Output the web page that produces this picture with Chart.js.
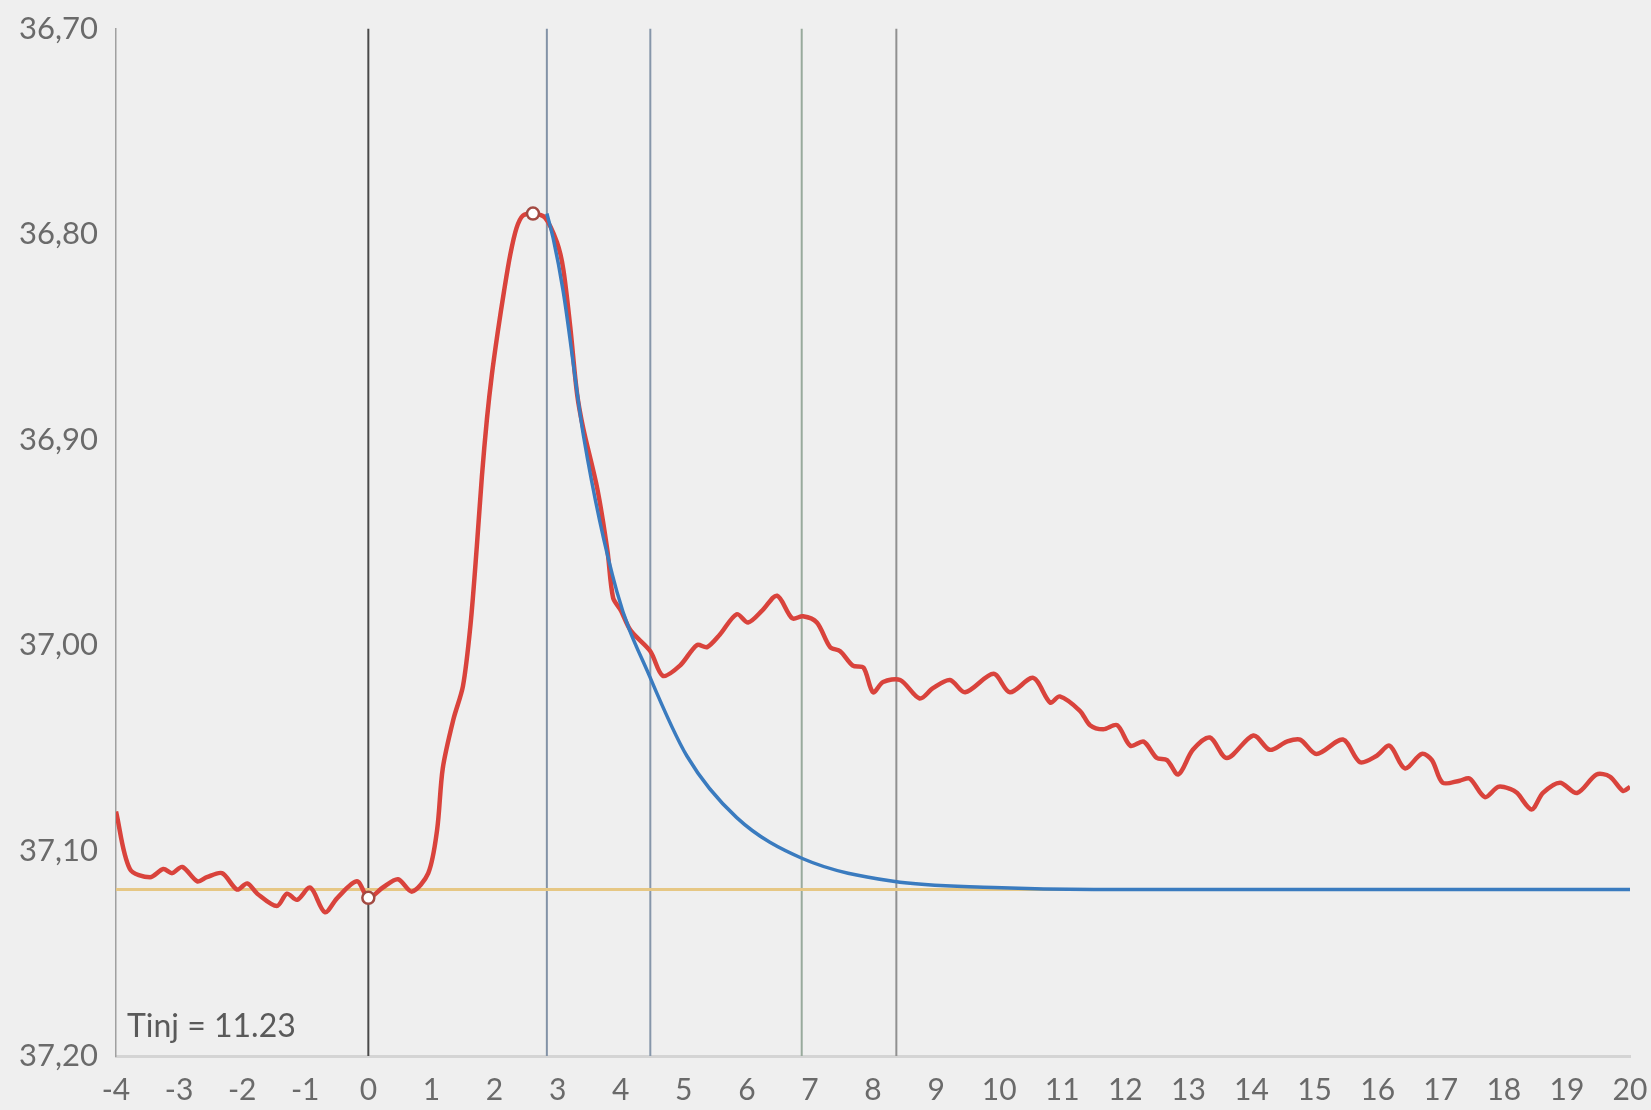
<!DOCTYPE html>
<html>
<head>
<meta charset="utf-8">
<title>Thermodilution curve</title>
<script src="https://cdn.jsdelivr.net/npm/chart.js@4.4.1/dist/chart.umd.min.js"></script>
<style>
    body { margin: 0; background: #efefef; }
    #wrap { width: 1651px; height: 1110px; position: relative; }
</style>
</head>
<body>
<div id="wrap"><canvas id="curveChart"></canvas></div>
<script>
// Measured temperature (red)
const measuredTime = [
    -4.00, -3.78, -3.46, -3.25, -3.11, -2.95, -2.71, -2.56, -2.32, -2.08,
    -1.92, -1.76, -1.45, -1.29, -1.13, -0.92, -0.69, -0.49, -0.18, 0.00,
    0.23, 0.47, 0.69, 0.95, 1.09, 1.18, 1.35, 1.50, 1.62, 1.72,
    1.80, 1.88, 1.96, 2.05, 2.15, 2.25, 2.35, 2.45, 2.61, 2.80, 2.99,
    3.09, 3.20, 3.31, 3.41, 3.63, 3.79, 3.88, 4.00, 4.16, 4.47,
    4.67, 4.94, 5.21, 5.37, 5.57, 5.84, 6.02, 6.25, 6.48, 6.72,
    6.89, 7.11, 7.32, 7.48, 7.68, 7.85, 8.00, 8.16, 8.43, 8.74,
    8.95, 9.22, 9.46, 9.91, 10.17, 10.54, 10.81, 10.96, 11.28, 11.44,
    11.65, 11.87, 12.08, 12.29, 12.50, 12.66, 12.84, 13.07, 13.34, 13.61,
    14.03, 14.29, 14.56, 14.77, 15.03, 15.45, 15.72, 15.98, 16.19, 16.43,
    16.70, 16.86, 17.03, 17.30, 17.46, 17.70, 17.91, 18.10, 18.21, 18.44,
    18.62, 18.89, 19.16, 19.47, 19.68, 19.89, 20.00
];
const measuredTemp = [
    37.081, 37.109, 37.113, 37.109, 37.111, 37.108, 37.115, 37.113, 37.111, 37.119,
    37.116, 37.121, 37.127, 37.121, 37.124, 37.118, 37.130, 37.123, 37.115, 37.123,
    37.118, 37.114, 37.120, 37.111, 37.090, 37.060, 37.036, 37.020, 36.990, 36.952,
    36.918, 36.890, 36.868, 36.848, 36.828, 36.810, 36.797, 36.791, 36.790, 36.792, 36.804,
    36.817, 36.845, 36.878, 36.895, 36.924, 36.954, 36.977, 36.983, 36.993, 37.003,
    37.015, 37.010, 37.000, 37.001, 36.995, 36.985, 36.989, 36.983, 36.976, 36.987,
    36.986, 36.989, 37.001, 37.003, 37.010, 37.011, 37.023, 37.018, 37.017, 37.026,
    37.021, 37.017, 37.023, 37.014, 37.023, 37.016, 37.028, 37.025, 37.032, 37.039,
    37.041, 37.039, 37.049, 37.047, 37.055, 37.056, 37.063, 37.051, 37.045, 37.055,
    37.044, 37.051, 37.047, 37.046, 37.053, 37.046, 37.057, 37.054, 37.049, 37.060,
    37.053, 37.056, 37.067, 37.066, 37.065, 37.074, 37.069, 37.070, 37.072, 37.080,
    37.072, 37.067, 37.072, 37.063, 37.064, 37.071, 37.069
];

// Fitted decay (blue)
const fitTime = [2.83, 2.93, 3.09, 3.41, 3.94, 4.47, 5.05, 5.84, 6.89, 8.32, 9.91, 11.50, 20.00];
const fitTemp = [36.790, 36.802, 36.828, 36.898, 36.974, 37.016, 37.054, 37.084, 37.104, 37.115, 37.118, 37.119, 37.119];

// Baseline temperature
const baselineTemp = 37.119;

// Markers: injection start and curve peak
const markerTime = [0.00, 2.61];
const markerTemp = [37.123, 36.790];

// Vertical time markers
const markerLines = [0.00, 2.83, 4.47, 6.87, 8.37];
const markerLineColors = ['#4a4a4a', '#8292a6', '#8696aa', '#98aa9c', '#909090'];

// Axis ranges
const xMin = -4, xMax = 20;
const yMin = 36.70, yMax = 37.20;

const injectionLabel = 'Tinj = 11.23';

function toPoints(xs, ys) {
    return xs.map((x, i) => ({ x: x, y: ys[i] }));
}

const verticalSets = markerLines.map((t, i) => ({
    data: [{ x: t, y: yMin }, { x: t, y: yMax }],
    borderColor: markerLineColors[i],
    borderWidth: 2,
    pointRadius: 0,
    order: 10
}));

// Draws the injection temperature note inside the plot
const injectionNote = {
    id: 'injectionNote',
    afterDraw(chart) {
        const ctx = chart.ctx;
        const area = chart.chartArea;
        ctx.save();
        ctx.font = '32px Lato';
        ctx.fillStyle = '#5a5a5a';
        ctx.textBaseline = 'middle';
        ctx.fillText(injectionLabel, area.left + 11, area.bottom - 29);
        ctx.restore();
    }
};

const ctx = document.getElementById('curveChart').getContext('2d');
new Chart(ctx, {
    type: 'line',
    data: {
        datasets: [
            ...verticalSets,
            {
                data: [{ x: xMin, y: baselineTemp }, { x: xMax, y: baselineTemp }],
                borderColor: '#e6c784',
                borderWidth: 3,
                pointRadius: 0,
                order: 5
            },
            {
                data: toPoints(measuredTime, measuredTemp),
                borderColor: '#d9433c',
                borderWidth: 4.5,
                pointRadius: 0,
                tension: 0.3,
                order: 3
            },
            {
                data: toPoints(fitTime, fitTemp),
                borderColor: '#3a7bbf',
                borderWidth: 3.5,
                pointRadius: 0,
                cubicInterpolationMode: 'monotone',
                order: 2
            },
            {
                data: toPoints(markerTime, markerTemp),
                showLine: false,
                pointRadius: 6,
                pointBorderWidth: 2.5,
                pointBackgroundColor: '#ffffff',
                pointBorderColor: '#a34a42',
                order: 1
            }
        ]
    },
    options: {
        responsive: true,
        maintainAspectRatio: false,
        animation: false,
        layout: {
            padding: { top: 28, right: 0, left: 0, bottom: 0 }
        },
        plugins: {
            legend: { display: false },
            tooltip: { enabled: false }
        },
        scales: {
            x: {
                type: 'linear',
                min: xMin,
                max: xMax,
                afterFit(scale) {
                    scale.height = 54;
                    scale.paddingLeft = 0;
                    scale.paddingRight = 21;
                },
                grid: { display: false },
                border: { color: '#d4d4d4', width: 3 },
                ticks: {
                    stepSize: 1,
                    padding: 8,
                    color: '#6a6a6a',
                    font: { family: 'Lato', size: 30 },
                    maxRotation: 0,
                    autoSkip: false
                }
            },
            y: {
                type: 'linear',
                min: yMin,
                max: yMax,
                reverse: true,
                afterFit(scale) { scale.width = 116; },
                grid: { display: false },
                border: { color: '#a0a0a0', width: 1.5 },
                ticks: {
                    stepSize: 0.1,
                    padding: 10,
                    color: '#6a6a6a',
                    font: { family: 'Lato', size: 31 },
                    callback: function(value) {
                        return value.toFixed(2).replace('.', ',');
                    }
                }
            }
        }
    },
    plugins: [injectionNote]
});
</script>
</body>
</html>
